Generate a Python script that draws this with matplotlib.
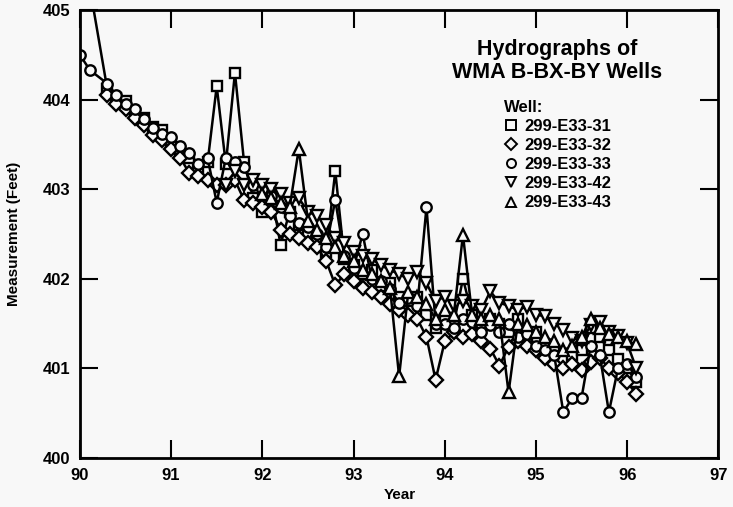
import numpy as np
import matplotlib
matplotlib.use("Agg")
import matplotlib.pyplot as plt
from matplotlib.lines import Line2D

plt.rcParams['font.family'] = ['Liberation Sans', 'DejaVu Sans']
plt.rcParams['font.weight'] = 'bold'

nan = np.nan

# sampling dates (year, 19xx), shared by all wells
years = [90.3, 90.4, 90.5, 90.6, 90.7, 90.8, 90.9, 91.0, 91.1, 91.2,
         91.3, 91.4, 91.5, 91.6, 91.7, 91.8, 91.9, 92.0, 92.1, 92.2,
         92.3, 92.4, 92.5, 92.6, 92.7, 92.8, 92.9, 93.0, 93.1, 93.2,
         93.3, 93.4, 93.5, 93.6, 93.7, 93.8, 93.9, 94.0, 94.1, 94.2,
         94.3, 94.4, 94.5, 94.6, 94.7, 94.8, 94.9, 95.0, 95.1, 95.2,
         95.3, 95.4, 95.5, 95.6, 95.7, 95.8, 95.9, 96.0, 96.1]

# early readings before the common schedule
w31_early_x = [90.0]
w31_early_y = [405.9]
w33_early_x = [90.0, 90.11]
w33_early_y = [404.5, 404.33]

w31 = [404.12, 404.02, 403.98, 403.85, 403.80, 403.70, 403.66, 403.52, 403.42, 403.35,
       403.22, 403.30, 404.15, 403.28, 404.30, 403.30, 402.90, 402.75, 402.95, 402.38,
       402.75, 402.60, 402.50, 402.45, 402.30, 403.20, 402.22, 402.15, 402.05, 402.10,
       401.92, 401.95, 401.80, 401.75, 401.80, 401.60, 401.45, 401.55, 401.50, 402.00,
       401.60, 401.45, 401.55, 401.50, 401.40, 401.55, 401.35, 401.40, 401.25, 401.20,
       401.10, 401.15, 401.20, 401.45, 401.35, 401.20, 401.10, 401.00, 400.85]

w32 = [404.05, 403.95, 403.90, 403.80, 403.72, 403.60, 403.55, 403.45, 403.35, 403.18,
       403.15, 403.10, 403.05, 403.05, 403.10, 402.88, 402.85, 402.80, 402.75, 402.55,
       402.50, 402.45, 402.40, 402.35, 402.20, 401.93, 402.05, 401.98, 401.90, 401.85,
       401.80, 401.72, 401.65, 401.60, 401.55, 401.35, 400.87, 401.30, 401.40, 401.35,
       401.38, 401.30, 401.22, 401.03, 401.24, 401.30, 401.25, 401.20, 401.12, 401.05,
       401.00, 401.05, 400.98, 401.07, 401.12, 401.00, 400.95, 400.85, 400.71]

w33 = [404.18, 404.05, 403.95, 403.90, 403.78, 403.68, 403.62, 403.58, 403.48, 403.40,
       403.28, 403.35, 402.85, 403.35, 403.30, 403.25, 403.05, 403.00, 402.92, 402.80,
       402.70, 402.62, 402.58, 402.50, 402.35, 402.88, 402.25, 402.12, 402.50, 402.00,
       401.98, 401.88, 401.73, 401.78, 401.70, 402.80, 401.50, 401.50, 401.45, 401.55,
       401.52, 401.40, 401.48, 401.40, 401.50, 401.35, 401.38, 401.25, 401.20, 401.15,
       400.51, 400.67, 400.67, 401.25, 401.15, 400.51, 401.00, 401.05, 400.90]

w42 = [nan, nan, nan, nan, nan, nan, nan, nan, nan, nan,
       nan, nan, nan, 403.05, 403.20, 403.05, 403.10, 403.05, 403.00, 402.95,
       402.85, 402.90, 402.75, 402.70, 402.60, 402.45, 402.40, 402.30, 402.25, 402.22,
       402.15, 402.10, 402.05, 402.00, 402.08, 401.95, 401.75, 401.80, 401.70, 401.75,
       401.70, 401.65, 401.86, 401.73, 401.70, 401.65, 401.69, 401.60, 401.58, 401.50,
       401.43, 401.34, 401.30, 401.48, 401.52, 401.40, 401.36, 401.28, 401.00]

w43 = [nan, nan, nan, nan, nan, nan, nan, nan, nan, nan,
       nan, nan, nan, nan, nan, nan, nan, 402.95, 402.90, 402.85,
       402.80, 403.45, 402.65, 402.55, 402.45, 402.35, 402.25, 402.20, 402.10, 402.05,
       401.98, 401.90, 400.91, 401.85, 401.80, 401.72, 401.55, 401.65, 401.60, 402.49,
       401.60, 401.55, 401.60, 401.55, 400.73, 401.50, 401.48, 401.40, 401.35, 401.30,
       401.20, 401.25, 401.35, 401.55, 401.45, 401.38, 401.35, 401.30, 401.27]

wells = ["299-E33-31", "299-E33-32", "299-E33-33", "299-E33-42", "299-E33-43"]
markers = ["s", "D", "o", "v", "^"]

bg = "#f8f8f8"
fig = plt.figure(figsize=(7.33, 5.07), dpi=100, facecolor=bg)
ax = fig.add_axes([0.109, 0.097, 0.871, 0.883], facecolor=bg)

series = [
    (w31_early_x + years, w31_early_y + w31),
    (years, w32),
    (w33_early_x + years, w33_early_y + w33),
    (years, w42),
    (years, w43),
]
msizes = [7.5, 7, 7.5, 8.5, 8.5]
for (x, y), m, ms in zip(series, markers, msizes):
    x = np.array(x, dtype=float)
    y = np.array(y, dtype=float)
    ok = ~np.isnan(y)
    ax.plot(x[ok], y[ok], color="black", lw=1.8, marker=m, ms=ms,
            mfc=bg, mec="black", mew=1.7)

ax.set_xlim(90, 97)
ax.set_ylim(400, 405)
ax.set_xticks(range(90, 98))
ax.set_yticks(range(400, 406))
ax.tick_params(direction="in", length=13, width=1.5, top=True, right=True,
               labelsize=12, pad=7)
for lab in ax.get_xticklabels() + ax.get_yticklabels():
    lab.set_fontweight("bold")
for sp in ax.spines.values():
    sp.set_linewidth(2)

fig.text(0.546, 0.024, "Year", ha="center", va="center", fontsize=11, fontweight="bold")
fig.text(0.019, 0.538, "Measurement (Feet)", ha="center", va="center",
         rotation=90, fontsize=11, fontweight="bold")

fig.text(0.76, 0.88, "Hydrographs of\nWMA B-BX-BY Wells", ha="center", va="center",
         fontsize=15.5, fontweight="bold", linespacing=1.15)

handles = [Line2D([], [], ls="none", marker=m, ms=6.5, mfc="none", mec="black", mew=1.4)
           for m in markers]
leg = ax.legend(handles, wells, title="Well:", loc="upper left",
                bbox_to_anchor=(0.676, 0.82), bbox_transform=fig.transFigure,
                frameon=False, fontsize=12, title_fontproperties={"weight": "bold", "size": 12},
                handlelength=0.8, handletextpad=0.45, labelspacing=0.25,
                borderpad=0, alignment="left")
for t in leg.get_texts():
    t.set_fontweight("bold")

fig.savefig("out.png", dpi=100, facecolor=bg)
